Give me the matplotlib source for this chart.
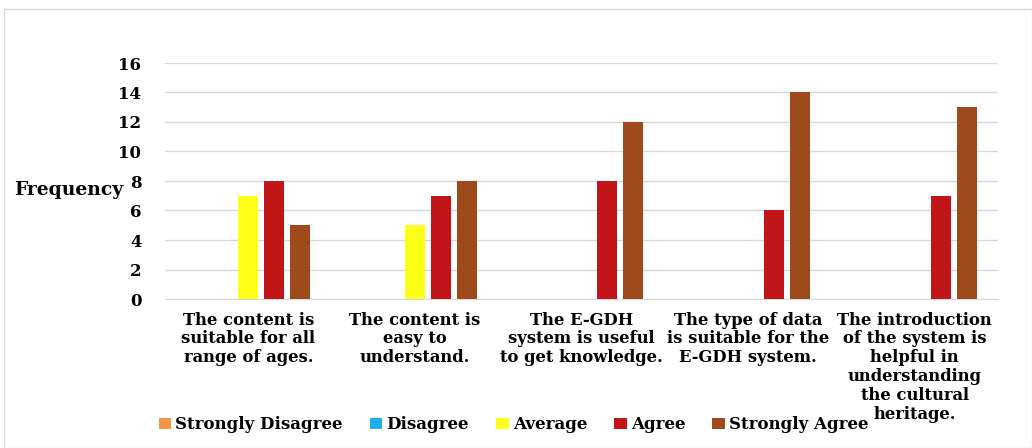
import matplotlib
matplotlib.use("Agg")
import matplotlib.pyplot as plt
import numpy as np
from matplotlib.patches import Rectangle

categories = [
    "The content is\nsuitable for all\nrange of ages.",
    "The content is\neasy to\nunderstand.",
    "The E-GDH\nsystem is useful\nto get knowledge.",
    "The type of data\nis suitable for the\nE-GDH system.",
    "The introduction\nof the system is\nhelpful in\nunderstanding\nthe cultural\nheritage.",
]
series_names = ["Strongly Disagree", "Disagree", "Average", "Agree", "Strongly Agree"]
strongly_disagree = [0, 0, 0, 0, 0]
disagree = [0, 0, 0, 0, 0]
average = [7, 5, 0, 0, 0]
agree = [8, 7, 8, 6, 7]
strongly_agree = [5, 8, 12, 14, 13]
y_ticks = [0, 2, 4, 6, 8, 10, 12, 14, 16]

colors = ["#F4964A", "#1EAFE6", "#FFFF1A", "#C0161A", "#9E4A1A"]
series = [strongly_disagree, disagree, average, agree, strongly_agree]

plt.rcParams["font.family"] = "DejaVu Serif"
plt.rcParams["font.weight"] = "bold"

fig = plt.figure(figsize=(10.32, 4.48), dpi=100)
ax = fig.add_axes([165 / 1032, 1 - 299 / 448, (998 - 165) / 1032, (299 - 63) / 448])

# outer chart border
fig.patches.append(Rectangle((4 / 1032, 0), 1 - 4 / 1032, 1 - 9 / 448,
                             transform=fig.transFigure, fill=False,
                             edgecolor="#D9D9D9", linewidth=1))

x = np.arange(len(categories))
width = 0.12
step = 0.156
handles = []
for i, (name, vals, c) in enumerate(zip(series_names, series, colors)):
    offs = (i - 2) * step
    b = ax.bar(x + offs, vals, width, color=c, label=name, zorder=3)
    handles.append(b)

ax.set_xlim(-0.5, len(categories) - 0.5)
ax.set_ylim(0, 16)
ax.set_yticks(y_ticks)
ax.set_yticklabels([str(t) for t in y_ticks], fontsize=12, fontweight="bold")
ax.yaxis.grid(True, color="#D9D9D9", linewidth=1, zorder=0)
ax.tick_params(axis="y", length=0, pad=17)
ax.tick_params(axis="x", length=0, pad=9)
for s in ["top", "right", "left"]:
    ax.spines[s].set_visible(False)
ax.spines["bottom"].set_color("#D9D9D9")
ax.set_xticks(x)
ax.set_xticklabels(categories, fontsize=11.8, fontweight="bold", linespacing=1.15, va="top")

ax.set_ylabel("Frequency", rotation=0, fontsize=13.5, fontweight="bold",
              labelpad=0, va="center")
ax.yaxis.set_label_coords(-0.115, 0.462)

fig.legend(handles=handles, labels=series_names, loc="lower left",
           bbox_to_anchor=(152 / 1032, 8 / 448), ncol=5, frameon=False,
           fontsize=12, handlelength=0.75, handleheight=0.7, handletextpad=0.25,
           columnspacing=1.62, borderaxespad=0)

fig.savefig("out.png", dpi=100, facecolor="white")
